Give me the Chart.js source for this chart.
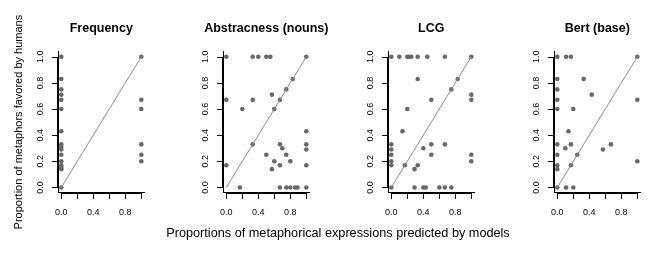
<!DOCTYPE html>
<html>
<head>
<meta charset="utf-8">
<script src="https://cdn.jsdelivr.net/npm/chart.js@4.4.1/dist/chart.umd.min.js"></script>
<style>
  body { margin: 0; background: #fff; }
  #wrap { position: relative; width: 667px; height: 264px; overflow: hidden; font-family: "Liberation Sans", Arial, sans-serif; color: #000; }
  canvas { position: absolute; top: 0; }
  .ttl { position: absolute; top: 20px; width: 140px; margin-left: -70px; text-align: center; font-weight: bold; font-size: 12.5px; line-height: 16px; white-space: nowrap; }
  #xlab { position: absolute; left: 138px; width: 400px; top: 225px; text-align: center; font-size: 12.7px; line-height: 16px; white-space: nowrap; }
</style>
</head>
<body>
<div id="wrap">
  <canvas id="p0" width="165" height="264"></canvas>
  <canvas id="p1" width="165" height="264"></canvas>
  <canvas id="p2" width="165" height="264"></canvas>
  <canvas id="p3" width="165" height="264"></canvas>
  <div id="xlab">Proportions of metaphorical expressions predicted by models</div>
</div>
<script>
// panel titles and axis titles
const titles = ['Frequency', 'Abstracness (nouns)', 'LCG', 'Bert (base)'];
const yTitle = 'Proportion of metaphors favored by humans';

// tick values / labels (R style: labels only where they fit)
const xTickVals = [0, 0.2, 0.4, 0.6, 0.8, 1.0];
const xTickLabels = ['0.0', '', '0.4', '', '0.8', ''];
const yTickVals = [0, 0.2, 0.4, 0.6, 0.8, 1.0];
const yTickLabels = ['0.0', '0.2', '0.4', '0.6', '0.8', '1.0'];

// Frequency
const freqX = [0, 0, 0, 0, 0, 0, 0, 0, 0, 0, 0, 0, 0, 0, 0, 0,
  1, 1, 1, 1, 1, 1];
const freqY = [1, 0.83, 0.75, 0.71, 0.67, 0.6, 0.43, 0.33, 0.31, 0.29, 0.25, 0.2, 0.17, 0.15, 0.14, 0,
  1, 0.67, 0.6, 0.33, 0.25, 0.2];

// Abstracness (nouns)
const abstrX = [0, 0.33, 0.4, 0.5, 0.55, 1, 0.83, 0.75, 0.57, 0, 0.33, 0.67, 0.2, 0.6, 1,
  0.33, 0.67, 0.7, 1, 1, 0.5, 0.75, 0.6, 0.8, 0, 0.67, 1, 0.57,
  0.17, 0.67, 0.75, 0.8, 0.86, 0.89, 1];
const abstrY = [1, 1, 1, 1, 1, 1, 0.83, 0.75, 0.71, 0.67, 0.67, 0.67, 0.6, 0.6, 0.43,
  0.33, 0.33, 0.3, 0.33, 0.29, 0.25, 0.25, 0.2, 0.2, 0.17, 0.17, 0.17, 0.14,
  0, 0, 0, 0, 0, 0, 0];

// LCG
const lcgX = [0, 0.1, 0.2, 0.22, 0.25, 0.33, 0.45, 0.67, 1,
  0.33, 0.83, 0.75, 1, 0.5, 1, 0.2, 0.14,
  0, 0, 0, 0, 0, 0.4, 0.5, 0.67, 0.5, 1, 1, 0.17, 0.33, 0.29,
  0, 0.29, 0.4, 0.43, 0.6, 0.67, 0.75];
const lcgY = [1, 1, 1, 1, 1, 1, 1, 1, 1,
  0.83, 0.83, 0.75, 0.71, 0.67, 0.67, 0.6, 0.43,
  0.33, 0.29, 0.25, 0.2, 0.17, 0.3, 0.33, 0.33, 0.25, 0.25, 0.2, 0.17, 0.17, 0.14,
  0, 0, 0, 0, 0, 0, 0];

// Bert (base)
const bertX = [0, 0.11, 0.17, 1, 0, 0.33, 0, 0.43, 0, 1, 0, 0.2, 0.14,
  0, 0.17, 0.67, 0.1, 0.57, 0.25, 0, 1, 0, 0.17, 0, 0, 0.11, 0.2];
const bertY = [1, 1, 1, 1, 0.83, 0.83, 0.75, 0.71, 0.67, 0.67, 0.6, 0.6, 0.43,
  0.33, 0.33, 0.33, 0.3, 0.29, 0.25, 0.25, 0.2, 0.17, 0.17, 0.14, 0, 0, 0];

// y = x reference line
const diagX = [0, 1];
const diagY = [0, 1];

const panelLeft = [0, 165, 330, 496];
const FONT = '"Liberation Sans", Arial, sans-serif';
const TICK = 5;

// R style axes: line from first to last tick, ticks pointing outwards
const rAxes = {
    id: 'rAxes',
    afterDraw(chart) {
        const { ctx, chartArea, scales } = chart;
        const sx = scales.x, sy = scales.y;
        const by = Math.round(chartArea.bottom);
        const lx = Math.round(chartArea.left) - 1;
        const px = xTickVals.map(v => Math.round(sx.getPixelForValue(v)));
        const py = yTickVals.map(v => Math.round(sy.getPixelForValue(v)));
        ctx.save();
        ctx.fillStyle = '#000';
        ctx.fillRect(px[0], by, px[px.length - 1] - px[0] + 1, 1);
        px.forEach(p => ctx.fillRect(p, by, 1, TICK + 1));
        ctx.fillRect(lx, py[py.length - 1], 1, py[0] - py[py.length - 1] + 1);
        py.forEach(p => ctx.fillRect(lx - TICK, p, TICK + 1, 1));
        ctx.restore();
    }
};

function createPanel(index, xs, ys) {
    const canvas = document.getElementById('p' + index);
    canvas.style.left = panelLeft[index] + 'px';

    const t = document.createElement('div');
    t.className = 'ttl';
    t.textContent = titles[index];
    t.style.left = (panelLeft[index] + 101.3) + 'px';
    document.getElementById('wrap').appendChild(t);

    new Chart(canvas, {
        type: 'scatter',
        data: {
            datasets: [{
                data: diagX.map((x, i) => ({ x: x, y: diagY[i] })),
                showLine: true,
                borderColor: '#8c8c8c',
                borderWidth: 1,
                pointRadius: 0
            }, {
                data: xs.map((x, i) => ({ x: x, y: ys[i] })),
                backgroundColor: '#686868',
                borderWidth: 0,
                pointRadius: 2.3
            }]
        },
        options: {
            responsive: false,
            animation: false,
            events: [],
            layout: { padding: { top: 51.5, right: 20.5, left: 0, bottom: 0 } },
            plugins: {
                legend: { display: false },
                tooltip: { enabled: false }
            },
            scales: {
                x: {
                    min: -0.04,
                    max: 1.04,
                    afterBuildTicks: s => { s.ticks = xTickVals.map(v => ({ value: v })); },
                    afterFit: s => { s.height = 71.3; },
                    border: { display: true, color: '#000', width: 1 },
                    grid: { drawOnChartArea: false, tickLength: TICK, color: 'rgba(0,0,0,0)' },
                    ticks: {
                        autoSkip: false,
                        maxRotation: 0,
                        padding: 9.5,
                        color: '#000',
                        font: { family: FONT, size: 9 },
                        callback: (v, i) => xTickLabels[i]
                    }
                },
                y: {
                    min: -0.04,
                    max: 1.04,
                    afterBuildTicks: s => { s.ticks = yTickVals.map(v => ({ value: v })); },
                    afterFit: s => { s.width = 58.1; },
                    border: { display: true, color: '#000', width: 1 },
                    grid: { drawOnChartArea: false, tickLength: TICK, color: 'rgba(0,0,0,0)' },
                    title: {
                        display: index === 0,
                        text: yTitle,
                        color: '#000',
                        font: { family: FONT, size: 11 },
                        padding: { top: 12.4, bottom: 0 }
                    },
                    ticks: {
                        autoSkip: false,
                        minRotation: 90,
                        maxRotation: 90,
                        crossAlign: 'center',
                        padding: 6.5,
                        color: '#000',
                        font: { family: FONT, size: 9 },
                        callback: (v, i) => yTickLabels[i]
                    }
                }
            }
        },
        plugins: [rAxes]
    });
}

document.addEventListener('DOMContentLoaded', function () {
    createPanel(0, freqX, freqY);
    createPanel(1, abstrX, abstrY);
    createPanel(2, lcgX, lcgY);
    createPanel(3, bertX, bertY);
});
</script>
</body>
</html>
